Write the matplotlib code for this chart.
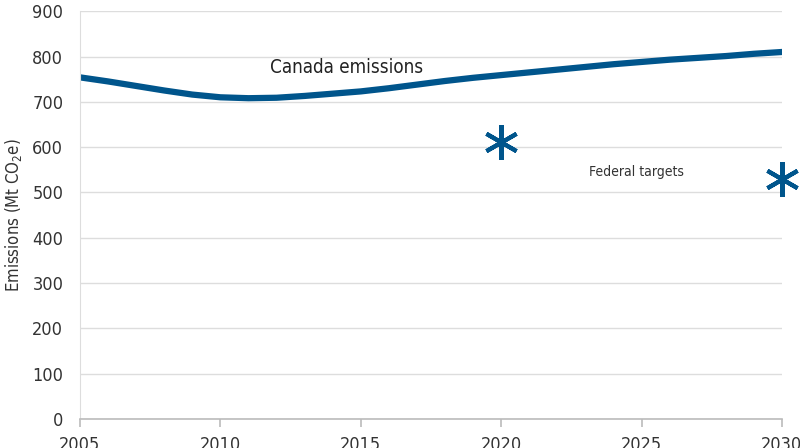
import matplotlib.pyplot as plt

plt.rcParams['font.family'] = ['DejaVu Sans']
plt.rcParams['font.stretch'] = 'condensed'

# 年度排放量 (Mt CO2e)
years = list(range(2005, 2031))
emissions = [754, 745, 735, 725, 716, 710, 708, 709, 713, 718,
             723, 730, 738, 746, 753, 759, 765, 771, 777, 783,
             788, 793, 797, 801, 806, 810]

# 联邦目标
target_years = [2020, 2030]
target_values = [612, 530]

blue = '#00558c'

fig = plt.figure(figsize=(8, 4.48), dpi=100)
ax = fig.add_axes([0.1, 0.0647, 0.8775, 0.9103])

ax.plot(years, emissions, color=blue, linewidth=4.5, solid_capstyle='round')
ax.plot(target_years, target_values, linestyle='none', marker=(6, 2, 0),
        markersize=25, markeredgewidth=3, color=blue, clip_on=False)

ax.text(2014.5, 776, 'Canada emissions', fontsize=13.5, color='#222222', ha='center', va='center')
ax.text(2024.8, 545, 'Federal targets', fontsize=10, color='#333333', ha='center', va='center')

ax.set_xlim(2005, 2030)
ax.set_ylim(0, 900)
ax.set_xticks(range(2005, 2031, 5))
ax.set_yticks(range(0, 901, 100))
ax.yaxis.grid(True, color='#dddddd', linewidth=1)
ax.set_axisbelow(True)

for s in ['top', 'right']:
    ax.spines[s].set_visible(False)
ax.spines['left'].set_color('#dddddd')
ax.spines['bottom'].set_color('#bbbbbb')
ax.spines['bottom'].set_linewidth(1.2)

ax.tick_params(axis='y', length=0, pad=12, labelsize=13, labelcolor='#333333')
ax.tick_params(axis='x', length=6, width=1.2, color='#bbbbbb', pad=6,
               labelsize=13, labelcolor='#333333')

ax.set_ylabel('Emissions (Mt CO$_2$e)', fontsize=12, color='#333333', labelpad=6)

fig.savefig('out.png', dpi=100)
